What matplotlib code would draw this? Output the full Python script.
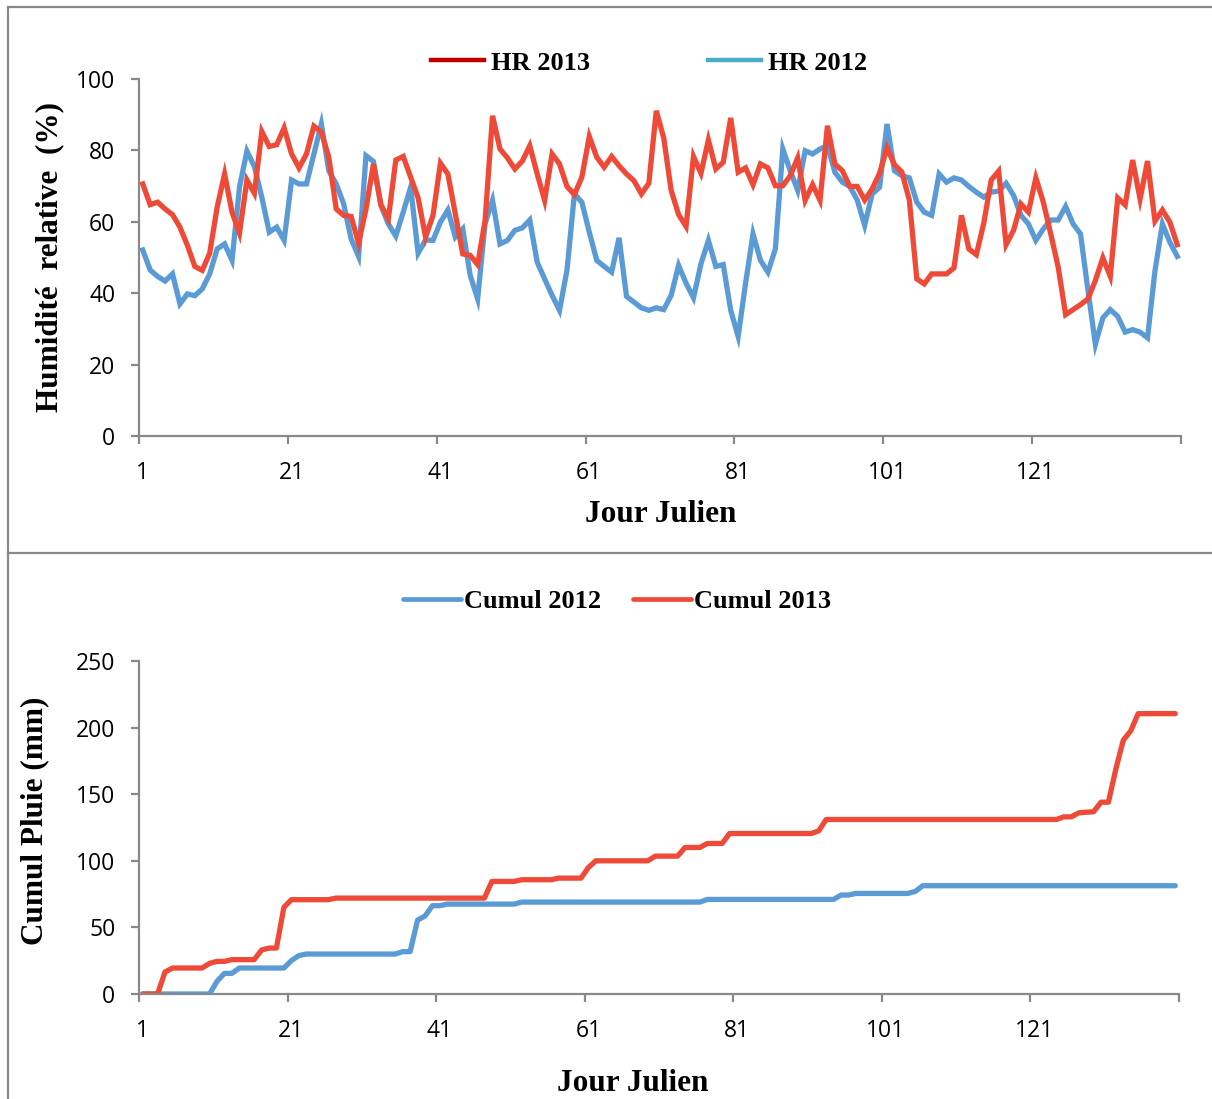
"""Humidité relative journalière et cumul de pluie, 2012 vs 2013 (jours juliens 1-140)."""

import matplotlib

matplotlib.use("Agg")
import matplotlib.pyplot as plt
from matplotlib.lines import Line2D
import numpy as np

W, H = 1212, 1099

DAYS = list(range(1, 141))

HR_2012 = [
    52.1, 46.5, 44.7, 43.4, 45.4, 37.0, 39.8, 39.3, 41.2, 45.4,
    52.4, 53.8, 49.2, 69.7, 79.8, 75.5, 66.9, 57.1, 58.5, 54.8,
    71.7, 70.6, 70.6, 79.0, 87.4, 74.3, 70.6, 65.0, 55.2, 50.3,
    78.5, 76.9, 64.6, 59.4, 56.0, 62.7, 69.7, 51.2, 54.9, 54.8,
    59.9, 63.3, 55.7, 58.0, 45.0, 38.4, 59.5, 66.0, 53.8, 54.8,
    57.6, 58.3, 60.5, 48.7, 44.0, 39.4, 35.2, 46.4, 67.8, 65.5,
    57.1, 49.2, 47.5, 45.9, 55.5, 39.1, 37.5, 35.9, 35.2, 35.9,
    35.4, 39.4, 47.8, 42.8, 38.7, 48.2, 54.8, 47.5, 48.0, 35.2,
    27.9, 42.8, 56.6, 49.2, 45.9, 52.4, 80.4, 74.3, 68.8, 79.9,
    79.0, 80.4, 81.3, 73.9, 71.1, 69.9, 66.1, 59.0, 67.8, 69.7,
    87.4, 74.3, 72.9, 72.3, 65.5, 62.7, 61.8, 73.4, 71.1, 72.3,
    71.7, 69.9, 68.3, 66.9, 68.3, 68.6, 70.8, 67.4, 61.8, 59.4,
    54.8, 58.0, 60.5, 60.5, 64.3, 59.4, 56.6, 40.8, 25.7, 33.1,
    35.4, 33.5, 29.1, 29.8, 29.1, 27.5, 46.2, 59.4, 54.3, 50.3,
]

HR_2013 = [
    70.6, 64.8, 65.5, 63.6, 62.0, 58.5, 53.4, 47.5, 46.4, 51.2,
    64.1, 73.4, 62.7, 56.8, 71.7, 68.0, 85.3, 81.1, 81.6, 86.3,
    79.0, 75.1, 79.0, 86.8, 85.1, 78.1, 63.6, 61.8, 61.5, 54.0,
    63.6, 76.2, 64.8, 60.8, 77.3, 78.3, 72.5, 66.7, 55.7, 61.8,
    76.4, 73.4, 62.2, 51.0, 50.6, 48.0, 60.4, 89.7, 80.4, 77.9,
    74.8, 77.0, 81.3, 73.4, 66.0, 79.0, 76.2, 69.9, 67.6, 72.5,
    83.9, 78.1, 75.3, 78.3, 75.7, 73.4, 71.5, 67.8, 70.8, 91.1,
    83.5, 68.8, 62.0, 58.7, 78.3, 73.6, 82.9, 74.8, 76.7, 89.1,
    73.9, 75.1, 70.4, 76.2, 75.1, 70.1, 70.1, 72.9, 77.9, 66.0,
    70.4, 66.0, 86.9, 76.2, 74.3, 69.9, 69.9, 66.1, 69.2, 73.6,
    80.7, 76.0, 73.9, 66.1, 44.0, 42.6, 45.4, 45.4, 45.4, 47.1,
    61.8, 52.4, 50.8, 59.6, 71.7, 74.2, 53.6, 57.6, 65.0, 62.7,
    72.3, 65.5, 56.6, 47.3, 34.0, 35.4, 36.8, 38.4, 43.6, 49.9,
    44.7, 66.7, 64.7, 77.3, 66.4, 77.0, 60.2, 63.3, 59.9, 53.6,
]

CUMUL_2012 = [
    0, 0, 0, 0, 0, 0, 0, 0, 0, 0,
    9.5, 15.5, 15.5, 19.5, 19.5, 19.5, 19.5, 19.5, 19.5, 19.5,
    25.0, 28.8, 30.0, 30.0, 30.0, 30.0, 30.0, 30.0, 30.0, 30.0,
    30.0, 30.0, 30.0, 30.0, 30.0, 31.8, 31.8, 55.5, 58.5, 66.3,
    66.3, 67.5, 67.5, 67.5, 67.5, 67.5, 67.5, 67.5, 67.5, 67.5,
    67.5, 69.0, 69.0, 69.0, 69.0, 69.0, 69.0, 69.0, 69.0, 69.0,
    69.0, 69.0, 69.0, 69.0, 69.0, 69.0, 69.0, 69.0, 69.0, 69.0,
    69.0, 69.0, 69.0, 69.0, 69.0, 69.0, 71.0, 71.0, 71.0, 71.0,
    71.0, 71.0, 71.0, 71.0, 71.0, 71.0, 71.0, 71.0, 71.0, 71.0,
    71.0, 71.0, 71.0, 71.0, 74.3, 74.3, 75.5, 75.5, 75.5, 75.5,
    75.5, 75.5, 75.5, 75.5, 77.0, 81.3, 81.3, 81.3, 81.3, 81.3,
    81.3, 81.3, 81.3, 81.3, 81.3, 81.3, 81.3, 81.3, 81.3, 81.3,
    81.3, 81.3, 81.3, 81.3, 81.3, 81.3, 81.3, 81.3, 81.3, 81.3,
    81.3, 81.3, 81.3, 81.3, 81.3, 81.3, 81.3, 81.3, 81.3, 81.3,
]

CUMUL_2013 = [
    0, 0, 0, 16.5, 19.5, 19.5, 19.5, 19.5, 19.5, 23.0,
    24.5, 24.5, 25.8, 25.8, 25.8, 25.8, 33.0, 34.5, 34.5, 65.0,
    70.8, 70.8, 70.8, 70.8, 70.8, 70.8, 72.0, 72.0, 72.0, 72.0,
    72.0, 72.0, 72.0, 72.0, 72.0, 72.0, 72.0, 72.0, 72.0, 72.0,
    72.0, 72.0, 72.0, 72.0, 72.0, 72.0, 72.0, 84.5, 84.5, 84.5,
    84.5, 85.8, 85.8, 85.8, 85.8, 85.8, 87.0, 87.0, 87.0, 87.0,
    95.0, 100.0, 100.0, 100.0, 100.0, 100.0, 100.0, 100.0, 100.0, 103.5,
    103.5, 103.5, 103.5, 110.0, 110.0, 110.0, 113.0, 113.0, 113.0, 120.5,
    120.5, 120.5, 120.5, 120.5, 120.5, 120.5, 120.5, 120.5, 120.5, 120.5,
    120.5, 122.5, 131.0, 131.0, 131.0, 131.0, 131.0, 131.0, 131.0, 131.0,
    131.0, 131.0, 131.0, 131.0, 131.0, 131.0, 131.0, 131.0, 131.0, 131.0,
    131.0, 131.0, 131.0, 131.0, 131.0, 131.0, 131.0, 131.0, 131.0, 131.0,
    131.0, 131.0, 131.0, 131.0, 133.0, 133.0, 136.0, 136.5, 136.8, 144.0,
    144.0, 169.0, 190.5, 197.5, 210.5, 210.5, 210.5, 210.5, 210.5, 210.5,
]

DAY_LABELS = [1, 21, 41, 61, 81, 101, 121]

RED = "#EF4A37"
BLUE = "#5B9BD5"
AXIS_GREY = "#898989"
SERIF = "Liberation Serif"
SANS = "Open Sans"
TICK_SIZE = 16.5
TITLE_SIZE = 22.5


def px(x, y):
    """Pixel position -> figure fraction."""
    return x / W, 1 - y / H


def style_axis(ax, ymax, ystep):
    for side in ("top", "right"):
        ax.spines[side].set_visible(False)
    for side in ("left", "bottom"):
        ax.spines[side].set_color(AXIS_GREY)
        ax.spines[side].set_linewidth(1.6)
    ax.set_xlim(0.5, 140.5)
    ax.set_ylim(0, ymax)
    ax.set_yticks(np.arange(0, ymax + 1, ystep))
    # tick marks sit between categories, labels sit on the category itself
    ax.set_xticks(np.arange(0.5, 141, 20))
    ax.set_xticklabels([])
    ax.set_xticks(DAY_LABELS, minor=True)
    ax.set_xticklabels([str(d) for d in DAY_LABELS], minor=True,
                       fontfamily=SANS, fontsize=TICK_SIZE)
    ax.tick_params(axis="x", which="major", length=6, width=1.6,
                   color=AXIS_GREY, direction="out")
    ax.tick_params(axis="x", which="minor", length=0, pad=18)
    ax.tick_params(axis="y", length=6, width=1.6, color=AXIS_GREY,
                   direction="out", pad=11, labelsize=TICK_SIZE)
    for lab in ax.get_yticklabels():
        lab.set_fontfamily(SANS)


fig = plt.figure(figsize=(W / 100, H / 100), dpi=100)

# frames around the two panels
for (x0, y0), (x1, y1) in [((8, 7), (1212, 7)), ((8, 7), (8, 1099)),
                           ((8, 553), (1212, 553))]:
    a, b = px(x0, y0)
    c, d = px(x1, y1)
    fig.add_artist(Line2D([a, c], [b, d], color=AXIS_GREY, lw=1.6,
                          transform=fig.transFigure))

# top: relative humidity
ax1 = fig.add_axes([139 / W, 1 - 436 / H, 1042 / W, 357 / H])
ax1.plot(DAYS, HR_2012, color=BLUE, lw=3.8, solid_joinstyle="miter")
ax1.plot(DAYS, HR_2013, color=RED, lw=3.8, solid_joinstyle="miter")
style_axis(ax1, 100, 20)
ax1.set_xlabel("Jour Julien", fontfamily=SERIF, fontweight="bold",
               fontsize=TITLE_SIZE)
ax1.xaxis.set_label_coords(0.501, -0.221)
ax1.xaxis.label.set_va("center")
ax1.set_ylabel("Humidité  relative  (%)", fontfamily=SERIF,
               fontweight="bold", fontsize=TITLE_SIZE)
ax1.yaxis.set_label_coords(-0.0854, 0.5)
ax1.yaxis.label.set_va("center")

hr_handles = [Line2D([], [], color="#C00000", lw=3.2),
              Line2D([], [], color="#4BACC6", lw=3.2)]
fig.legend(hr_handles, ["HR 2013", "HR 2012"], loc="center",
           bbox_to_anchor=px(649, 63), ncol=2, frameon=False,
           handlelength=2.0, handletextpad=0.25, columnspacing=4.5,
           borderpad=0, prop={"family": SERIF, "weight": "bold", "size": 19})

# bottom: cumulative rainfall
ax2 = fig.add_axes([139 / W, 1 - 994 / H, 1040 / W, 333 / H])
ax2.plot(DAYS, CUMUL_2012, color=BLUE, lw=3.8, solid_capstyle="round")
ax2.plot(DAYS, CUMUL_2013, color=RED, lw=3.8, solid_capstyle="round")
style_axis(ax2, 250, 50)
ax2.set_xlabel("Jour Julien", fontfamily=SERIF, fontweight="bold",
               fontsize=TITLE_SIZE)
ax2.xaxis.set_label_coords(0.475, -0.270)
ax2.xaxis.label.set_va("center")
ax2.set_ylabel("Cumul Pluie (mm)", fontfamily=SERIF, fontweight="bold",
               fontsize=TITLE_SIZE)
ax2.yaxis.set_label_coords(-0.100, 0.52)
ax2.yaxis.label.set_va("center")

rain_handles = [Line2D([], [], color=BLUE, lw=3.4, solid_capstyle="round"),
                Line2D([], [], color=RED, lw=3.4, solid_capstyle="round")]
fig.legend(rain_handles, ["Cumul 2012", "Cumul 2013"], loc="center",
           bbox_to_anchor=px(617, 601), ncol=2, frameon=False,
           handlelength=2.2, handletextpad=0.1, columnspacing=1.2,
           borderpad=0, prop={"family": SERIF, "weight": "bold", "size": 19})

fig.savefig("out.png", dpi=100)
